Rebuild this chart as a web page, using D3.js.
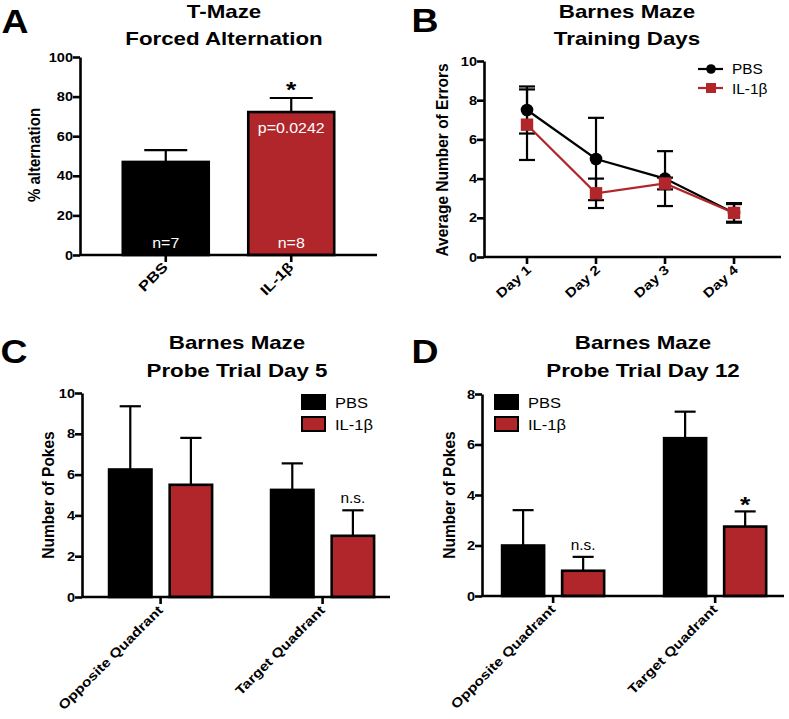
<!DOCTYPE html>
<html><head><meta charset="utf-8">
<script src="https://cdn.jsdelivr.net/npm/d3@7"></script>
<style>
body{margin:0;background:#fff;}
svg{display:block;font-family:"Liberation Sans",Arial,sans-serif;}
</style></head>
<body>
<svg id="chart" width="789" height="719"></svg>
<script>
// ---------- DATA ----------
const groupsA = ["PBS", "IL-1β"];
const valuesA = [47, 72.2];
const errorsA = [6, 7.1];
const nLabelsA = ["n=7", "n=8"];
const ticksA = [0, 20, 40, 60, 80, 100];

const daysB = ["Day 1", "Day 2", "Day 3", "Day 4"];
const pbsB = [7.5, 5.0, 4.0, 2.25];
const pbsErrB = [1.2, 2.1, 1.4, 0.45];
const ilB = [6.75, 3.25, 3.75, 2.25];
const ilErrB = [1.8, 0.75, 0.3, 0.5];
const ticksB = [0, 2, 4, 6, 8, 10];

const seriesNames = ["PBS", "IL-1β"];
const quadrants = ["Opposite Quadrant", "Target Quadrant"];

const pbsC = [6.25, 5.25];
const pbsErrC = [3.1, 1.3];
const ilC = [5.5, 3.0];
const ilErrC = [2.3, 1.25];
const ticksC = [0, 2, 4, 6, 8, 10];

const pbsD = [2.0, 6.25];
const pbsErrD = [1.4, 1.05];
const ilD = [1.0, 2.75];
const ilErrD = [0.55, 0.6];
const ticksD = [0, 2, 4, 6, 8];

// ---------- STYLE ----------
const RED = "#B0262A";
const SX = 1.2;
const AXW = 2.6;
const svg = d3.select("#chart");

function text(g, x, y, str, size, opts = {}) {
  return g.append("text")
    .attr("transform", `translate(${x},${y}) scale(${opts.sx || SX},1)`)
    .attr("text-anchor", opts.anchor || "middle")
    .attr("font-size", size)
    .attr("font-weight", opts.weight || "bold")
    .attr("fill", opts.fill || "#000")
    .text(str);
}

function yAxis(g, y, x0, ticks) {
  const ax = g.append("g").attr("transform", `translate(${x0},0)`)
    .call(d3.axisLeft(y).tickValues(ticks).tickSize(7).tickPadding(0).tickSizeOuter(0));
  ax.select(".domain").attr("stroke-width", AXW);
  ax.selectAll(".tick line").attr("stroke-width", AXW);
  ax.selectAll(".tick text").each(function () {
    const t = d3.select(this);
    const x = +t.attr("x");
    t.attr("x", null).attr("transform", `translate(${x},0) scale(1.12,1)`);
  }).attr("font-size", 13).attr("font-weight", "bold").attr("fill", "#000")
    .attr("font-family", "Liberation Sans, Arial, sans-serif");
  return ax;
}

function xAxis(g, y0, x1, x2, positions, labels, size, rot, dx, dy) {
  g.append("line").attr("x1", x1).attr("x2", x2).attr("y1", y0).attr("y2", y0)
    .attr("stroke", "#000").attr("stroke-width", AXW);
  positions.forEach((px, i) => {
    g.append("line").attr("x1", px).attr("x2", px).attr("y1", y0).attr("y2", y0 + 7)
      .attr("stroke", "#000").attr("stroke-width", AXW);
    g.append("text")
      .attr("transform", `translate(${px + dx},${y0 + dy}) rotate(${rot}) scale(${SX},1)`)
      .attr("text-anchor", "end").attr("font-size", size).attr("font-weight", "bold")
      .text(labels[i]);
  });
}

function ylabel(g, x, y, str, size) {
  g.append("text").attr("transform", `translate(${x},${y}) rotate(-90) scale(1,1.1)`)
    .attr("text-anchor", "middle").attr("font-size", size).attr("font-weight", "bold").text(str);
}

function errUp(g, cx, yTop, yErr, half) {
  g.append("line").attr("x1", cx).attr("x2", cx).attr("y1", yTop).attr("y2", yErr)
    .attr("stroke", "#000").attr("stroke-width", 2.2);
  g.append("line").attr("x1", cx - half).attr("x2", cx + half).attr("y1", yErr).attr("y2", yErr)
    .attr("stroke", "#000").attr("stroke-width", 2.2);
}

// ---------- PANEL A ----------
{
  const g = svg.append("g");
  text(g, 15, 33, "A", 34, { sx: 1.1 });
  text(g, 224, 18, "T-Maze", 18.6);
  text(g, 224, 45, "Forced Alternation", 18.6);
  const y = d3.scaleLinear().domain([0, 100]).range([255, 57]);
  const x = d3.scaleBand().domain(groupsA).range([80, 377]).paddingInner(0.315).paddingOuter(0.341);
  const bw = x.bandwidth();
  groupsA.forEach((k, i) => {
    const cx = x(k) + bw / 2;
    errUp(g, cx, y(valuesA[i]), y(valuesA[i] + errorsA[i]), bw / 4);
    g.append("rect").attr("x", x(k)).attr("y", y(valuesA[i])).attr("width", bw)
      .attr("height", y(0) - y(valuesA[i])).attr("fill", i === 0 ? "#000" : RED)
      .attr("stroke", "#000").attr("stroke-width", AXW);
    text(g, cx, 248, nLabelsA[i], 14.5, { weight: "normal", fill: "#fff", sx: 1.1 });
  });
  text(g, x(groupsA[1]) + bw / 2, 133, "p=0.0242", 14.5, { weight: "normal", fill: "#fff", sx: 1.1 });
  text(g, x(groupsA[1]) + bw / 2, 97, "*", 22);
  yAxis(g, y, 80, ticksA);
  xAxis(g, 255, 80, 377, groupsA.map(k => x(k) + bw / 2), groupsA, 14, -45, 3, 13);
  ylabel(g, 40, 155, "% alternation", 15);
}

// ---------- PANEL B ----------
{
  const g = svg.append("g");
  text(g, 425, 32, "B", 34, { sx: 1.1 });
  text(g, 627, 18, "Barnes Maze", 18.6);
  text(g, 627, 45, "Training Days", 18.6);
  const y = d3.scaleLinear().domain([0, 10]).range([257, 61]);
  const x = d3.scalePoint().domain(daysB).range([484, 781]).padding(0.652).align(0.478);
  const series = [
    { v: pbsB, e: pbsErrB, color: "#000", shape: "circle" },
    { v: ilB, e: ilErrB, color: RED, shape: "square" }
  ];
  series.forEach(s => {
    daysB.forEach((d, i) => {
      const cx = x(d);
      g.append("line").attr("x1", cx).attr("x2", cx).attr("y1", y(s.v[i] - s.e[i])).attr("y2", y(s.v[i] + s.e[i]))
        .attr("stroke", "#000").attr("stroke-width", 2.2);
      [s.v[i] - s.e[i], s.v[i] + s.e[i]].forEach(v => {
        g.append("line").attr("x1", cx - 8).attr("x2", cx + 8).attr("y1", y(v)).attr("y2", y(v))
          .attr("stroke", "#000").attr("stroke-width", 2.2);
      });
    });
  });
  series.forEach(s => {
    const line = d3.line().x((d, i) => x(daysB[i])).y(d => y(d));
    g.append("path").attr("d", line(s.v)).attr("fill", "none").attr("stroke", s.color).attr("stroke-width", 2.2);
  });
  series.forEach(s => {
    daysB.forEach((d, i) => {
      if (s.shape === "circle") {
        g.append("circle").attr("cx", x(d)).attr("cy", y(s.v[i])).attr("r", 6.3).attr("fill", "#000");
      } else {
        g.append("rect").attr("x", x(d) - 6.2).attr("y", y(s.v[i]) - 6.2).attr("width", 12.4).attr("height", 12.4).attr("fill", RED);
      }
    });
  });
  yAxis(g, y, 484, ticksB);
  xAxis(g, 257, 484, 781, daysB.map(d => x(d)), daysB, 13, -42, 5, 14);
  ylabel(g, 448, 160, "Average Number of Errors", 15.5);
  // legend
  g.append("line").attr("x1", 698).attr("x2", 723).attr("y1", 69).attr("y2", 69).attr("stroke", "#000").attr("stroke-width", 2.2);
  g.append("circle").attr("cx", 711).attr("cy", 69).attr("r", 4.8).attr("fill", "#000");
  text(g, 732, 74, seriesNames[0], 14, { anchor: "start", weight: "normal", sx: 1.1 });
  g.append("line").attr("x1", 698).attr("x2", 723).attr("y1", 88).attr("y2", 88).attr("stroke", RED).attr("stroke-width", 2.2);
  g.append("rect").attr("x", 706).attr("y", 83).attr("width", 10).attr("height", 10).attr("fill", RED);
  text(g, 732, 94, seriesNames[1], 14, { anchor: "start", weight: "normal", sx: 1.1 });
}

// ---------- PANELS C & D ----------
function groupedPanel(opts) {
  const g = svg.append("g");
  text(g, opts.letterX, 363, opts.letter, 34, { sx: 1.1 });
  text(g, opts.titleX, 349, "Barnes Maze", 18.6);
  text(g, opts.titleX, 377, opts.title2, 18.6);
  const y = d3.scaleLinear().domain([0, opts.ymax]).range([opts.y0, opts.yTop]);
  const x0 = d3.scaleBand().domain(quadrants).range([opts.xL, opts.xR])
    .paddingInner(opts.pi).paddingOuter(opts.po).align(opts.align);
  const x1 = d3.scaleBand().domain(seriesNames).range([0, x0.bandwidth()]).paddingInner(0.3).paddingOuter(0);
  const bw = x1.bandwidth();
  const vals = [opts.pbs, opts.il], errs = [opts.pbsErr, opts.ilErr];
  quadrants.forEach((q, qi) => {
    seriesNames.forEach((s, si) => {
      const bx = x0(q) + x1(s), v = vals[si][qi];
      errUp(g, bx + bw / 2, y(v), y(v + errs[si][qi]), bw / 4);
      g.append("rect").attr("x", bx).attr("y", y(v)).attr("width", bw).attr("height", y(0) - y(v))
        .attr("fill", si === 0 ? "#000" : RED).attr("stroke", "#000").attr("stroke-width", AXW);
    });
  });
  opts.annots.forEach(a => {
    const bx = x0(quadrants[a.q]) + x1(seriesNames[1]) + bw / 2;
    if (a.t === "*") text(g, bx, a.y, "*", 22);
    else text(g, bx, a.y, a.t, 14, { weight: "normal", sx: 1.1 });
  });
  yAxis(g, y, opts.xL, opts.ticks);
  xAxis(g, opts.y0, opts.xL, opts.xR, quadrants.map(q => x0(q) + x0.bandwidth() / 2), quadrants, 13, -45, 3, 14);
  ylabel(g, opts.ylabX, (opts.y0 + opts.yTop) / 2, "Number of Pokes", 15.5);
  // legend
  seriesNames.forEach((s, i) => {
    g.append("rect").attr("x", opts.legX).attr("y", 395 + i * 22).attr("width", 23).attr("height", 14)
      .attr("fill", i === 0 ? "#000" : RED).attr("stroke", "#000").attr("stroke-width", 2);
    text(g, opts.legX + 33, 408 + i * 22, s, 15, { anchor: "start", weight: "normal", sx: 1.1 });
  });
}

groupedPanel({
  letter: "C", letterX: 14, titleX: 237, title2: "Probe Trial Day 5",
  ymax: 10, y0: 597, yTop: 393, xL: 82, xR: 390, pi: 0.364, po: 0.1326, align: 0.63,
  pbs: pbsC, pbsErr: pbsErrC, il: ilC, ilErr: ilErrC, ticks: ticksC,
  annots: [{ q: 1, t: "n.s.", y: 503 }], ylabX: 54, legX: 302
});

groupedPanel({
  letter: "D", letterX: 425, titleX: 643, title2: "Probe Trial Day 12",
  ymax: 8, y0: 596, yTop: 394, xL: 482, xR: 784, pi: 0.37, po: 0.117, align: 0.53,
  pbs: pbsD, pbsErr: pbsErrD, il: ilD, ilErr: ilErrD, ticks: ticksD,
  annots: [{ q: 0, t: "n.s.", y: 550 }, { q: 1, t: "*", y: 512 }], ylabX: 455, legX: 495
});
</script>
</body></html>
